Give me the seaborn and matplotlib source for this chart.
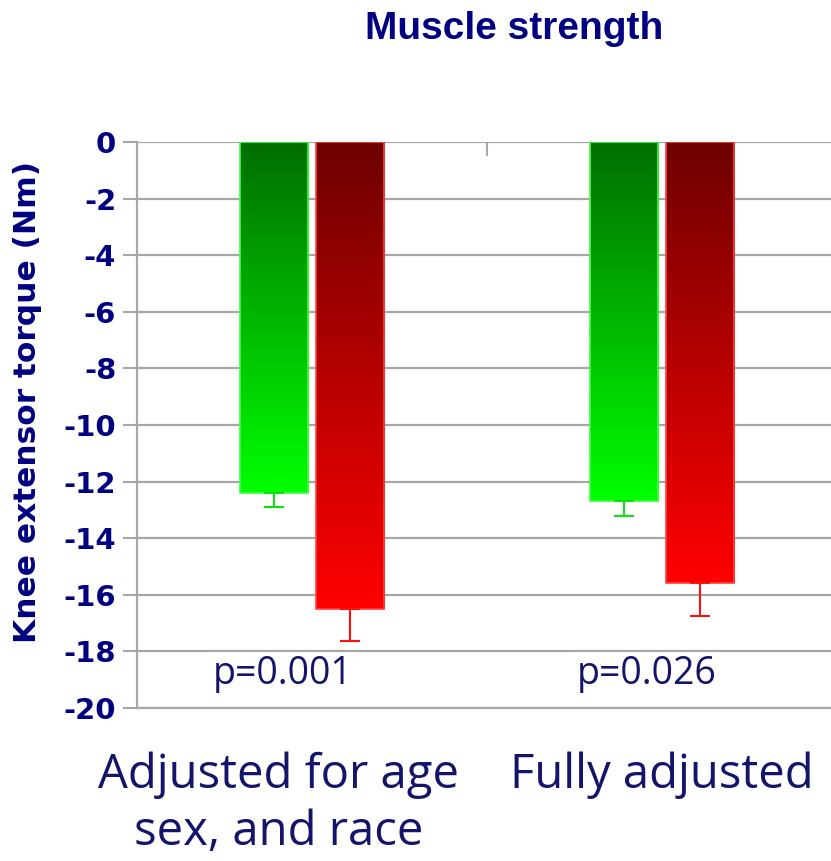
import numpy as np
import pandas as pd
import matplotlib
matplotlib.use("Agg")
import matplotlib.pyplot as plt
import seaborn as sns
from matplotlib.transforms import ScaledTranslation
from matplotlib.colors import LinearSegmentedColormap

# ---- data ----
categories = ["Adjusted for age\nsex, and race", "Fully adjusted"]
series_names = ["Group 1", "Group 2"]
values_group1 = [-12.4, -12.7]
values_group2 = [-16.5, -15.6]
err_group1 = [0.5, 0.5]
err_group2 = [1.15, 1.15]
p_values = ["p=0.001", "p=0.026"]
y_ticks = list(range(0, -21, -2))

df = pd.DataFrame({
    "category": categories * 2,
    "series": [series_names[0]] * 2 + [series_names[1]] * 2,
    "value": values_group1 + values_group2,
})

sns.set_theme(style="white")
navy = "#000080"
dark_navy = "#14146a"
grid_col = "#a6a6a6"

fig = plt.figure(figsize=(8.31, 8.61), dpi=100)
ax = fig.add_axes([137 / 831, 1 - 708 / 861, 1 - 137 / 831, (708 - 142) / 861])

sns.barplot(data=df, x="category", y="value", hue="series", order=categories,
            hue_order=series_names, palette=["#00c000", "#c00000"],
            width=0.432, gap=0.10, legend=False, ax=ax, zorder=3,
            edgecolor="none")

cmaps = {
    0: LinearSegmentedColormap.from_list("g", ["#006e00", "#00ff00"]),
    1: LinearSegmentedColormap.from_list("r", ["#6e0000", "#ff0000"]),
}
edge_cols = {0: "#40ff40", 1: "#ff4040"}
grad = np.linspace(0, 1, 256).reshape(-1, 1)

patches = list(ax.patches)
for i, p in enumerate(patches):
    s = i // len(categories)
    x, y, w, h = p.get_x(), p.get_y(), p.get_width(), p.get_height()
    im = ax.imshow(grad, cmap=cmaps[s], extent=(x, x + w, y + h, y),
                   origin="upper", aspect="auto", zorder=3.1,
                   interpolation="bilinear")
    im.set_clip_path(p)
    p.set_facecolor("none")
    p.set_edgecolor(edge_cols[s])
    p.set_linewidth(1.2)
    p.set_zorder(3.2)

# error bars (lower only)
err_all = [err_group1, err_group2]
err_cols = ["#10e010", "#ff1010"]
for i, p in enumerate(patches):
    s = i // len(categories)
    c = i % len(categories)
    xc = p.get_x() + p.get_width() / 2
    yv = p.get_y() + p.get_height()
    ax.errorbar([xc], [yv], yerr=[[err_all[s][c]], [0]], fmt="none",
                ecolor=err_cols[s], elinewidth=1.5, capsize=7, capthick=1.5,
                zorder=4)

# p-values (slightly left of each category centre, as in the source)
p_offsets = [-0.083, -0.043]
for c, txt in enumerate(p_values):
    ax.text(c + p_offsets[c], -18.8, txt, ha="center", va="center", fontsize=27,
            family="Open Sans", color=dark_navy, zorder=5,
            bbox=dict(facecolor="white", edgecolor="none", pad=2))

ax.set_ylim(-20, 0)
ax.set_xlim(-0.5, -0.5 + (831 - 137) / 350)
ax.set_yticks(y_ticks)
ax.set_yticklabels([str(t) for t in y_ticks], fontsize=21, fontweight="bold",
                   color=navy, family="DejaVu Sans")
ax.yaxis.grid(True, color=grid_col, linewidth=1.6, zorder=0)
ax.set_axisbelow(True)
ax.tick_params(axis="y", direction="out", length=10, width=1.5, color=grid_col,
               left=True, pad=5)
ax.tick_params(axis="x", length=0, pad=31)
for sp in ["top", "right"]:
    ax.spines[sp].set_visible(False)
ax.spines["left"].set_color(grid_col)
ax.spines["left"].set_linewidth(1.6)
ax.spines["bottom"].set_color(grid_col)
ax.spines["bottom"].set_linewidth(1.6)

# small divider tick at the top between categories
ax.plot([0.5, 0.5], [0, -0.45], color=grid_col, lw=1.5, zorder=2)

ax.set_xlabel("")
ax.set_ylabel("Knee extensor torque (Nm)", fontsize=22.5, fontweight="bold",
              color=navy, family="DejaVu Sans")
ax.yaxis.set_label_coords((42 - 137) / 694, (708 - 402) / 566)
ax.set_xticks(range(len(categories)))
ax.set_xticklabels(categories, fontsize=34, family="Open Sans", color=dark_navy,
                   linespacing=1.28)
lbl = ax.get_xticklabels()[0]
lbl.set_transform(lbl.get_transform() + ScaledTranslation(-0.33, 0, fig.dpi_scale_trans))

fig.text(365 / 831, 1 - 29 / 861, "Muscle strength", ha="left", va="center",
         fontsize=28, fontweight="bold", family="Liberation Sans",
         color=navy)

fig.savefig("out.png", dpi=100, facecolor="white")
